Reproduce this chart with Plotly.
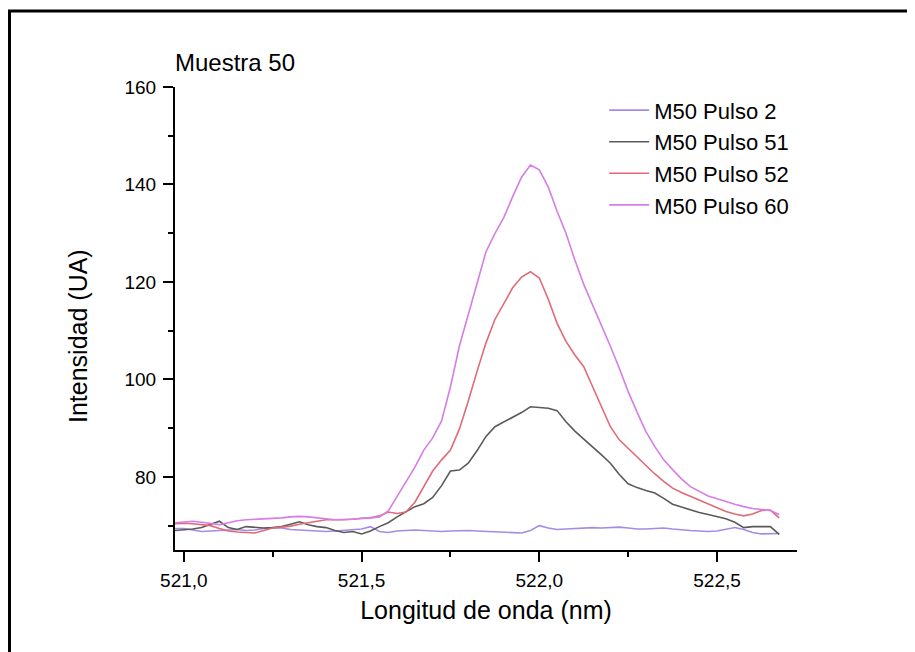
import plotly.graph_objects as go

wavelength = [520.975, 521.000, 521.025, 521.050, 521.075, 521.100, 521.125, 521.150, 521.175, 521.200,
              521.225, 521.250, 521.275, 521.300, 521.325, 521.350, 521.375, 521.400, 521.425, 521.450,
              521.475, 521.500, 521.525, 521.550, 521.575, 521.600, 521.625, 521.650, 521.675, 521.700,
              521.725, 521.750, 521.775, 521.800, 521.825, 521.850, 521.875, 521.900, 521.925, 521.950,
              521.975, 522.000, 522.025, 522.050, 522.075, 522.100, 522.125, 522.150, 522.175, 522.200,
              522.225, 522.250, 522.275, 522.300, 522.325, 522.350, 522.375, 522.400, 522.425, 522.450,
              522.475, 522.500, 522.525, 522.550, 522.575, 522.600, 522.625, 522.650, 522.675]

pulso_2 = [69.4, 69.4, 69.1, 68.8, 68.9, 69.0, 69.1, 69.2, 69.0, 69.1,
           69.4, 69.6, 69.5, 69.2, 69.1, 69.0, 68.9, 68.8, 68.9, 69.0,
           69.1, 69.3, 69.8, 68.8, 68.6, 68.9, 69.0, 69.1, 69.0, 68.9,
           68.8, 68.9, 69.0, 69.0, 68.9, 68.8, 68.7, 68.6, 68.5, 68.5,
           69.0, 70.0, 69.5, 69.2, 69.3, 69.4, 69.5, 69.6, 69.5, 69.6,
           69.7, 69.5, 69.3, 69.3, 69.4, 69.5, 69.3, 69.1, 69.0, 68.9,
           68.8, 68.9, 69.2, 69.6, 69.2, 68.6, 68.3, 68.3, 68.4]

pulso_51 = [69.0, 69.1, 69.3, 69.6, 70.2, 70.9, 69.6, 69.2, 69.8, 69.7,
            69.5, 69.6, 69.8, 70.3, 70.8, 70.2, 69.8, 69.6, 69.0, 68.6,
            68.8, 68.3, 68.9, 69.8, 70.6, 71.8, 72.8, 73.9, 74.5, 75.8,
            78.2, 81.2, 81.4, 82.8, 85.4, 88.3, 90.3, 91.3, 92.3, 93.2,
            94.4, 94.3, 94.1, 93.6, 91.3, 89.4, 87.8, 86.3, 84.5, 82.8,
            80.5, 78.6, 77.8, 77.2, 76.7, 75.6, 74.4, 73.8, 73.2, 72.7,
            72.3, 71.9, 71.4, 70.7, 69.6, 69.8, 69.8, 69.8, 68.2]

pulso_52 = [70.4, 70.5, 70.4, 70.2, 70.0, 69.4, 68.9, 68.7, 68.6, 68.5,
            69.0, 69.5, 69.7, 69.9, 70.3, 70.6, 70.9, 71.2, 71.2, 71.2,
            71.3, 71.5, 71.6, 72.0, 72.8, 72.5, 72.8, 74.8, 78.0, 81.2,
            83.5, 85.5, 89.8, 95.5, 101.7, 107.5, 112.3, 115.5, 118.8, 121.0,
            122.1, 120.8, 116.5, 111.5, 107.8, 105.0, 102.6, 98.5, 94.5, 90.3,
            87.6, 85.8, 84.0, 82.2, 80.6, 79.1, 77.7, 76.8, 76.0, 75.2,
            74.4, 73.7, 72.9, 72.4, 72.0, 72.4, 73.1, 73.2, 71.6]

pulso_60 = [70.6, 70.8, 70.9, 70.7, 70.4, 70.2, 70.6, 71.0, 71.2, 71.3,
            71.4, 71.4, 71.6, 71.8, 71.9, 71.8, 71.6, 71.4, 71.2, 71.2,
            71.3, 71.5, 71.6, 71.8, 73.0, 76.0, 79.0, 82.0, 85.5, 88.0,
            91.5, 98.5, 106.8, 113.4, 119.7, 126.2, 129.9, 133.2, 137.5, 141.5,
            144.0, 143.0, 139.5, 134.5, 130.0, 124.5, 119.5, 115.3, 111.3, 106.8,
            102.3, 97.5, 93.3, 89.3, 86.2, 83.5, 81.5, 79.6, 78.0, 77.0,
            76.1, 75.5, 74.9, 74.4, 73.9, 73.5, 73.3, 73.1, 72.3]

series_names = ["M50 Pulso 2", "M50 Pulso 51", "M50 Pulso 52", "M50 Pulso 60"]
series_values = [pulso_2, pulso_51, pulso_52, pulso_60]
series_colors = ["#a58be6", "#5a5a5a", "#e06a78", "#d67de6"]

y_tickvals = [80, 100, 120, 140, 160]
x_tickvals = [521.0, 521.5, 522.0, 522.5]

FONT = "Liberation Sans, Arial, sans-serif"

L, T, PW, PH = 167, 79, 622, 463

fig = go.Figure()
for name, vals, col in zip(series_names, series_values, series_colors):
    fig.add_trace(go.Scatter(x=wavelength, y=vals, mode="lines", name=name,
                             line=dict(color=col, width=1.6)))

fig.update_layout(
    width=915, height=652,
    margin=dict(l=L, r=915 - L - PW, t=T, b=652 - T - PH),
    paper_bgcolor="white", plot_bgcolor="white",
    separators=",.",
    font=dict(family=FONT, color="black"),
    showlegend=True,
    legend=dict(x=0.69, y=0.995, xanchor="left", yanchor="top",
                font=dict(size=22, color="black", family=FONT),
                bgcolor="rgba(0,0,0,0)", borderwidth=0, tracegroupgap=0,
                itemwidth=40),
    xaxis=dict(range=[520.975, 522.725], tickvals=x_tickvals, tickformat=".1f",
               showgrid=False, zeroline=False, showline=True, linecolor="black", linewidth=2,
               ticks="outside", ticklen=10, tickwidth=2, tickcolor="black",
               tickfont=dict(size=19, family=FONT), ticklabelstandoff=2,
               minor=dict(tickvals=[521.25, 521.75, 522.25], ticks="outside", ticklen=5,
                          tickwidth=2, tickcolor="black"),
               title=dict(text="Longitud de onda (nm)", font=dict(size=25, family=FONT), standoff=12)),
    yaxis=dict(range=[65, 160], tickvals=y_tickvals,
               showgrid=False, zeroline=False, showline=True, linecolor="black", linewidth=2,
               ticks="outside", ticklen=10, tickwidth=2, tickcolor="black",
               tickfont=dict(size=19, family=FONT), ticklabelstandoff=3,
               minor=dict(tickvals=[70, 90, 110, 130, 150], ticks="outside", ticklen=5,
                          tickwidth=2, tickcolor="black")),
)

fig.add_annotation(text="Intensidad (UA)", xref="paper", yref="paper",
                   x=(70 - L) / PW, y=1 - (328 - T) / PH, textangle=-90,
                   xanchor="center", yanchor="middle", showarrow=False,
                   font=dict(size=25, family=FONT, color="black"))

fig.add_annotation(text="Muestra 50", xref="paper", yref="paper", x=(165 - L) / PW, y=1 + (T - 54) / PH,
                   xanchor="left", yanchor="middle", showarrow=False,
                   font=dict(size=24, family=FONT, color="black"))

# outer black frame of the figure
fig.add_shape(type="rect", xref="paper", yref="paper",
              x0=(1.5 - L) / PW, x1=(903 - L) / PW,
              y0=-(680 - T - PH) / PH, y1=1 + (T - 3) / PH,
              line=dict(color="black", width=3), layer="above")

fig.write_html("out.html")
